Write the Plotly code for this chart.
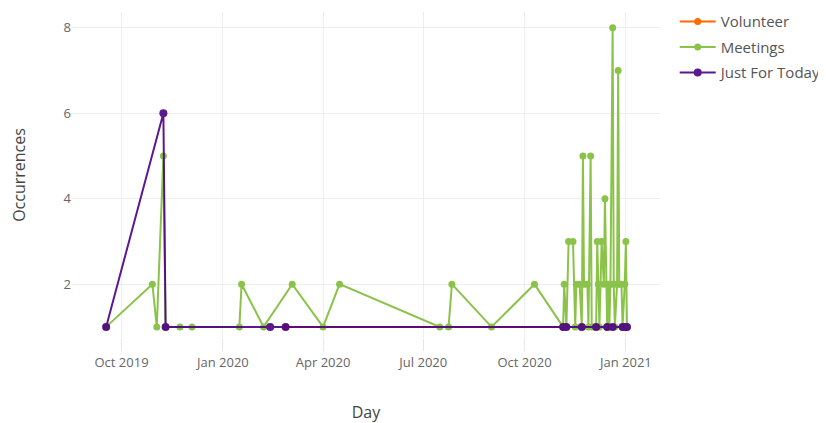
import plotly.graph_objects as go

# ---- data ----
volunteer_dates = ["2020-02-27", "2020-11-05", "2020-12-15", "2021-01-02"]
volunteer_vals = [1, 1, 1, 1]

meetings_dates = [
    "2019-09-17", "2019-10-29", "2019-11-02", "2019-11-08", "2019-11-10",
    "2019-11-23", "2019-12-04", "2020-01-16", "2020-01-18", "2020-02-07",
    "2020-03-04", "2020-04-01", "2020-04-16", "2020-07-16", "2020-07-24",
    "2020-07-27", "2020-09-01", "2020-10-10",
    "2020-11-05", "2020-11-06", "2020-11-08", "2020-11-10", "2020-11-14",
    "2020-11-16", "2020-11-17", "2020-11-20", "2020-11-22", "2020-11-23",
    "2020-11-24", "2020-11-27", "2020-11-28", "2020-11-30", "2020-12-01",
    "2020-12-05", "2020-12-06", "2020-12-07", "2020-12-08", "2020-12-10",
    "2020-12-12", "2020-12-13", "2020-12-15", "2020-12-16", "2020-12-17",
    "2020-12-18", "2020-12-20", "2020-12-21", "2020-12-22", "2020-12-24",
    "2020-12-25", "2020-12-26", "2020-12-28", "2020-12-29", "2020-12-31",
    "2021-01-01", "2021-01-02",
]
meetings_vals = [
    1, 2, 1, 5, 1,
    1, 1, 1, 2, 1,
    2, 1, 2, 1, 1,
    2, 1, 2,
    1, 2, 1, 3, 3,
    1, 2, 2, 1, 5,
    2, 2, 1, 5, 1,
    1, 3, 2, 1, 3,
    2, 4, 1, 2, 1,
    2, 8, 2, 1, 2,
    7, 2, 2, 1, 2,
    3, 1,
]

jft_dates = [
    "2019-09-17", "2019-11-08", "2019-11-10", "2020-02-13", "2020-02-27",
    "2020-11-05", "2020-11-08", "2020-11-22", "2020-12-05", "2020-12-15",
    "2020-12-20", "2020-12-29", "2020-12-31", "2021-01-02",
]
jft_vals = [1, 6, 1, 1, 1, 1, 1, 1, 1, 1, 1, 1, 1, 1]

x_range = ["2019-08-17", "2021-02-01"]
y_range = [0.74, 8.37]
y_ticks = [2, 4, 6, 8]

FONT = "Open Sans, Liberation Sans, sans-serif"

fig = go.Figure()
fig.add_trace(go.Scatter(
    x=volunteer_dates, y=volunteer_vals, name="Volunteer", mode="lines+markers",
    legendgroup="v",
    line=dict(color="#ff6a00", width=2), marker=dict(color="#ff6a00", size=7),
))
fig.add_trace(go.Scatter(
    x=meetings_dates, y=meetings_vals, name="Meetings", mode="lines+markers",
    legendgroup="m",
    line=dict(color="#8bc34a", width=2), marker=dict(color="#8bc34a", size=7),
))
fig.add_trace(go.Scatter(
    x=jft_dates, y=jft_vals, name="Just For Today", mode="lines+markers",
    legendgroup="j",
    line=dict(color="#4b0082", width=2), marker=dict(color="#4b0082", size=8),
    opacity=0.9,
))

fig.update_layout(
    width=818, height=415,
    margin=dict(l=64, r=166, t=4, b=85, autoexpand=False),
    paper_bgcolor="white", plot_bgcolor="white",
    font=dict(family=FONT, color="#555"),
    showlegend=True,
    legend=dict(x=1.025, y=1.021, xanchor="left", yanchor="top",
                itemwidth=36, tracegroupgap=3,
                font=dict(size=15, color="#555", family=FONT)),
    xaxis=dict(
        range=x_range, type="date", automargin=False,
        dtick="M3", tickformat="%b %Y", tick0="2019-10-01",
        showgrid=True, gridcolor="#eeeeee", zeroline=False,
        ticks="outside", ticklen=12, tickcolor="#e6e6e6",
        tickfont=dict(size=13, color="#666"),
        title=dict(text="Day", font=dict(size=16, color="#444"), standoff=37),
    ),
    yaxis=dict(
        range=y_range, tickvals=y_ticks, automargin=False,
        showgrid=True, gridcolor="#eeeeee", zeroline=False,
        tickfont=dict(size=13, color="#666"),
        title=dict(text="Occurrences", font=dict(size=16, color="#444"), standoff=34),
    ),
)

fig.write_html("out.html")
